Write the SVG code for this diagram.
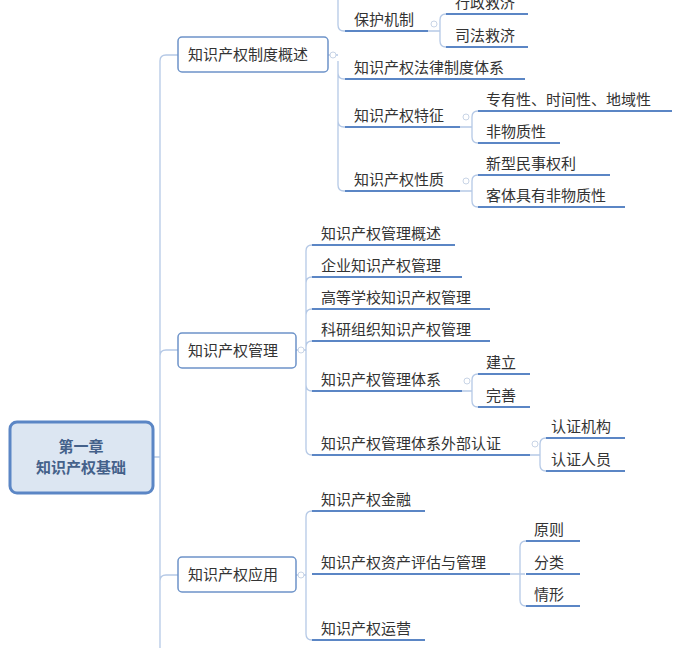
<svg xmlns="http://www.w3.org/2000/svg" width="700" height="648" viewBox="0 0 700 648">
<style>
text{font-family:"Noto Sans CJK SC","Noto Sans",sans-serif;font-size:15px;fill:#333}
.c{fill:none;stroke:#b5c9e6;stroke-width:1.3}
.u{stroke:#5b86c5;stroke-width:2}
.b{fill:#fff;stroke:#6d93c9;stroke-width:1.5}
.k{fill:#fff;stroke:#c8d4e6;stroke-width:1}
</style>
<rect width="700" height="648" fill="#fff"/>
<g id="connectors">
<path class="c" d="M153 457H160 M160 648V61Q160 55 166 55H178 M160 356Q160 350 166 350H178 M160 581Q160 575 166 575H178"/>
<path class="c" d="M328 55H338 M338 0V25Q338 31 344 31H345 M338 73Q338 79 344 79H345 M338 61V121Q338 127 344 127H345 M338 121V185Q338 191 344 191H345"/>
<path class="c" d="M428 31H440 M440 31V20Q440 14 446 14H446 M440 31V41Q440 47 446 47"/>
<path class="c" d="M460 127H472 M472 127V117Q472 111 478 111 M472 127V137Q472 143 478 143"/>
<path class="c" d="M460 191H472 M472 191V181Q472 175 478 175 M472 191V201Q472 207 478 207"/>
<path class="c" d="M296 350H306 M306 350V251Q306 245 312 245 M306 283Q306 277 312 277 M306 315Q306 309 312 309 M306 347Q306 341 312 341 M306 350V385Q306 391 312 391 M306 385V449Q306 455 312 455"/>
<path class="c" d="M462 391H472 M472 391V380Q472 374 478 374 M472 391V401Q472 407 478 407"/>
<path class="c" d="M530 455H540 M540 455V444Q540 438 546 438 M540 455V465Q540 471 546 471"/>
<path class="c" d="M296 575H306 M306 575V517Q306 511 312 511 M306 575V634Q306 640 312 640"/>
<path class="c" d="M510 574H525 M520 574V547Q520 541 526 541 M520 574V600Q520 606 526 606"/>
<circle class="k" cx="333" cy="55" r="3"/><circle class="k" cx="301" cy="350" r="3"/><circle class="k" cx="301" cy="575" r="3"/>
<circle class="k" cx="434" cy="24" r="3"/><circle class="k" cx="466" cy="117" r="3"/><circle class="k" cx="466" cy="181" r="3"/>
<circle class="k" cx="467" cy="381" r="3"/><circle class="k" cx="535" cy="444" r="3"/>
</g>
<g id="root"><rect x="10" y="422" width="143" height="71" rx="7" fill="#dce6f2" stroke="#5b86c5" stroke-width="3"/>
<text x="81" y="452" text-anchor="middle" style="font-weight:bold;fill:#44618a">第一章</text>
<text x="81" y="473" text-anchor="middle" style="font-weight:bold;fill:#44618a">知识产权基础</text></g>
<g id="n1"><rect class="b" x="178" y="37" width="150" height="35" rx="4"/><text x="188" y="60">知识产权制度概述</text></g>
<g id="n2"><rect class="b" x="178" y="333" width="118" height="35" rx="4"/><text x="188" y="356">知识产权管理</text></g>
<g id="n3"><rect class="b" x="178" y="557" width="118" height="35" rx="4"/><text x="188" y="580">知识产权应用</text></g>
<g id="a1"><text x="354" y="25">保护机制</text><line class="u" x1="345" y1="31" x2="428" y2="31"/></g>
<g id="a1a"><text x="455" y="8">行政救济</text><line class="u" x1="446" y1="14" x2="528" y2="14"/></g>
<g id="a1b"><text x="455" y="41">司法救济</text><line class="u" x1="446" y1="47" x2="528" y2="47"/></g>
<g id="a2"><text x="354" y="73">知识产权法律制度体系</text><line class="u" x1="345" y1="79" x2="525" y2="79"/></g>
<g id="a3"><text x="354" y="121">知识产权特征</text><line class="u" x1="345" y1="127" x2="460" y2="127"/></g>
<g id="a3a"><text x="486" y="105">专有性、时间性、地域性</text><line class="u" x1="478" y1="111" x2="672" y2="111"/></g>
<g id="a3b"><text x="486" y="137">非物质性</text><line class="u" x1="478" y1="143" x2="560" y2="143"/></g>
<g id="a4"><text x="354" y="185">知识产权性质</text><line class="u" x1="345" y1="191" x2="460" y2="191"/></g>
<g id="a4a"><text x="486" y="169">新型民事权利</text><line class="u" x1="478" y1="175" x2="610" y2="175"/></g>
<g id="a4b"><text x="486" y="201">客体具有非物质性</text><line class="u" x1="478" y1="207" x2="625" y2="207"/></g>
<g id="b1"><text x="321" y="239">知识产权管理概述</text><line class="u" x1="312" y1="245" x2="455" y2="245"/></g>
<g id="b2"><text x="321" y="271">企业知识产权管理</text><line class="u" x1="312" y1="277" x2="462" y2="277"/></g>
<g id="b3"><text x="321" y="303">高等学校知识产权管理</text><line class="u" x1="312" y1="309" x2="490" y2="309"/></g>
<g id="b4"><text x="321" y="335">科研组织知识产权管理</text><line class="u" x1="312" y1="341" x2="490" y2="341"/></g>
<g id="b5"><text x="321" y="385">知识产权管理体系</text><line class="u" x1="312" y1="391" x2="462" y2="391"/></g>
<g id="b5a"><text x="486" y="368">建立</text><line class="u" x1="478" y1="374" x2="530" y2="374"/></g>
<g id="b5b"><text x="486" y="401">完善</text><line class="u" x1="478" y1="407" x2="530" y2="407"/></g>
<g id="b6"><text x="321" y="449">知识产权管理体系外部认证</text><line class="u" x1="312" y1="455" x2="530" y2="455"/></g>
<g id="b6a"><text x="551" y="432">认证机构</text><line class="u" x1="546" y1="438" x2="625" y2="438"/></g>
<g id="b6b"><text x="551" y="465">认证人员</text><line class="u" x1="546" y1="471" x2="625" y2="471"/></g>
<g id="c1"><text x="321" y="505">知识产权金融</text><line class="u" x1="312" y1="511" x2="425" y2="511"/></g>
<g id="c2"><text x="321" y="568">知识产权资产评估与管理</text><line class="u" x1="312" y1="574" x2="510" y2="574"/></g>
<g id="c2a"><text x="534" y="535">原则</text><line class="u" x1="526" y1="541" x2="580" y2="541"/></g>
<g id="c2b"><text x="534" y="568">分类</text><line class="u" x1="526" y1="574" x2="580" y2="574"/></g>
<g id="c2c"><text x="534" y="600">情形</text><line class="u" x1="526" y1="606" x2="580" y2="606"/></g>
<g id="c3"><text x="321" y="634">知识产权运营</text><line class="u" x1="312" y1="640" x2="425" y2="640"/></g>
</svg>
